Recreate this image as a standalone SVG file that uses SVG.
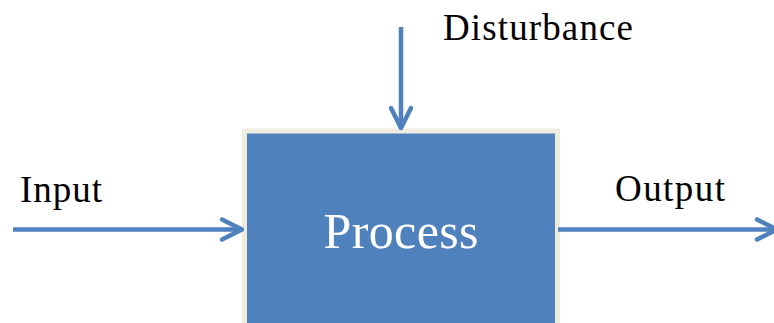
<svg xmlns="http://www.w3.org/2000/svg" width="774" height="323" viewBox="0 0 774 323">
<style>
.lbl{font-family:"Liberation Serif","Times New Roman",serif;font-size:37px;fill:#000}
.conn{stroke:#4F81BD;stroke-width:4.5;fill:none}
</style>
<defs>
<marker id="arr" markerUnits="userSpaceOnUse" viewBox="-24 -14 28 28" refX="0" refY="0" markerWidth="28" markerHeight="28" orient="auto" overflow="visible">
<path d="M-20,-10 L0,0 L-20,10" fill="none" stroke="#4F81BD" stroke-width="4.5" stroke-linecap="round" stroke-linejoin="round"/>
</marker>
</defs>
<rect width="774" height="323" fill="#fff"/>
<g id="process">
<rect x="242" y="128.5" width="318" height="200" rx="3" fill="#EEECE1"/>
<rect x="247" y="133.5" width="308" height="200" fill="#4F81BD"/>
<text x="401" y="248" text-anchor="middle" font-family="Liberation Serif,Times New Roman,serif" font-size="50" fill="#fff" textLength="155">Process</text>
</g>
<g id="input"><text class="lbl" x="20" y="202" textLength="82">Input</text></g>
<g id="output"><text class="lbl" x="615" y="201" textLength="110">Output</text></g>
<g id="disturbance"><text class="lbl" x="443" y="40" textLength="190">Disturbance</text></g>
<g id="connectors">
<line class="conn" x1="13" y1="229.5" x2="242" y2="229.5" marker-end="url(#arr)"/>
<line class="conn" x1="558" y1="229.5" x2="777" y2="229.5" marker-end="url(#arr)"/>
<line class="conn" x1="401" y1="27" x2="401" y2="128" marker-end="url(#arr)"/>
</g>
</svg>
